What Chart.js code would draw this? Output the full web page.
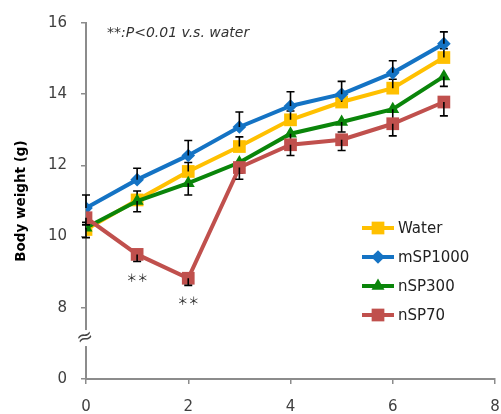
<!DOCTYPE html>
<html>
<head>
<meta charset="utf-8">
<script src="https://cdn.jsdelivr.net/npm/chart.js@4"></script>
<style>
  html, body { margin: 0; padding: 0; background: #fff; }
  #chart { display: block; }
</style>
</head>
<body>
<canvas id="chart" width="501" height="414"></canvas>
<script>
// days after dosing
var days = [0, 1, 2, 3, 4, 5, 6, 7];

// mean body weight (g)
var water   = [10.2, 11.03, 11.83, 12.53, 13.28, 13.78, 14.17, 15.03];
var msp1000 = [10.8, 11.6, 12.28, 13.08, 13.67, 14.0, 14.6, 15.42];
var nsp300  = [10.25, 11.0, 11.5, 12.08, 12.89, 13.22, 13.58, 14.5];
var nsp70   = [10.53, 9.5, 8.83, 11.94, 12.58, 12.72, 13.17, 13.78];

// SD (only one side is drawn, like the original)
var waterErr   = [0.2, 0.25, 0.25, 0.27, 0.25, 0.22, 0.25, 0.25];
var msp1000Err = [0.37, 0.32, 0.42, 0.42, 0.4, 0.36, 0.34, 0.33];
var nsp300Err  = [0.28, 0.3, 0.33, 0.3, 0.28, 0.28, 0.3, 0.28];
var nsp70Err   = [0.2, 0.2, 0.2, 0.33, 0.3, 0.3, 0.34, 0.39];

// days with ** for nSP70
var sigDays = [1, 2];

var yTicks = [6, 8, 10, 12, 14, 16]; // 6 is shown as 0 (broken axis)
var xTicks = [0, 2, 4, 6, 8];

var FONT = '"DejaVu Sans", Verdana, sans-serif';

function pts(arr) {
  return days.map(function(d, i) { return { x: d, y: arr[i] }; });
}

function makeSet(label, arr, err, dir, color, style, radius, order) {
  return {
    label: label,
    data: pts(arr),
    err: err,
    errDir: dir,
    borderColor: color,
    backgroundColor: color,
    borderWidth: 4,
    pointStyle: style,
    pointRadius: radius,
    pointBorderWidth: 0,
    pointBackgroundColor: color,
    tension: 0,
    order: order
  };
}

var datasets = [
  makeSet('Water', water, waterErr, 1, '#FFC000', 'rect', 9, 3),
  makeSet('mSP1000', msp1000, msp1000Err, 1, '#1473C4', 'rectRot', 6.8, 2),
  makeSet('nSP300', nsp300, nsp300Err, -1, '#0A850A', 'triangle', 7.5, 1),
  makeSet('nSP70', nsp70, nsp70Err, -1, '#C0504D', 'rect', 9, 0)
];

// the plot runs almost to the right edge, as in the original
var fixRight = {
  id: 'fixRight',
  afterLayout: function(chart) {
    var xs = chart.scales.x, ca = chart.chartArea;
    var r = chart.width - 6;
    xs.right = r;
    xs.width = r - xs.left;
    ca.right = r;
    ca.width = r - ca.left;
    xs.configure();
  }
};

// error bars after each dataset
var errorBars = {
  id: 'errorBars',
  afterDatasetDraw: function(chart, args) {
    var ds = chart.data.datasets[args.index];
    var xs = chart.scales.x, ys = chart.scales.y;
    var ctx = chart.ctx;
    ctx.save();
    ctx.strokeStyle = '#000';
    ctx.lineWidth = 1.6;
    ds.data.forEach(function(p, i) {
      var px = xs.getPixelForValue(p.x);
      var py = ys.getPixelForValue(p.y);
      var pe = ys.getPixelForValue(p.y + ds.errDir * ds.err[i]);
      ctx.beginPath();
      ctx.moveTo(px, py);
      ctx.lineTo(px, pe);
      ctx.moveTo(px - 4, pe);
      ctx.lineTo(px + 4, pe);
      ctx.stroke();
    });
    ctx.restore();
  }
};

function drawMarker(ctx, style, r, x, y) {
  ctx.beginPath();
  if (style === 'rect') {
    var s = Math.SQRT1_2 * r;
    ctx.rect(x - s, y - s, 2 * s, 2 * s);
  } else if (style === 'rectRot') {
    ctx.moveTo(x, y - r); ctx.lineTo(x + r, y); ctx.lineTo(x, y + r); ctx.lineTo(x - r, y);
    ctx.closePath();
  } else if (style === 'triangle') {
    ctx.moveTo(x, y - r);
    ctx.lineTo(x + r * Math.cos(Math.PI / 6), y + r / 2);
    ctx.lineTo(x - r * Math.cos(Math.PI / 6), y + r / 2);
    ctx.closePath();
  }
  ctx.fill();
}

var extras = {
  id: 'extras',
  afterDraw: function(chart) {
    var ctx = chart.ctx;
    var xs = chart.scales.x, ys = chart.scales.y;
    ctx.save();

    // axis break mark
    var bx = xs.left, by = ys.getPixelForValue(7.15);
    ctx.fillStyle = '#fff';
    ctx.fillRect(bx - 3, by - 8, 6, 16);
    ctx.translate(bx - 1, by);
    ctx.rotate(-0.35);
    ctx.fillStyle = '#444';
    ctx.font = '20px ' + FONT;
    ctx.textAlign = 'center';
    ctx.textBaseline = 'middle';
    ctx.fillText('\u2248', 0, 0);
    ctx.setTransform(1, 0, 0, 1, 0, 0);

    // significance marks
    ctx.fillStyle = '#222';
    ctx.font = '11px "Noto Sans CJK JP", sans-serif';
    ctx.textAlign = 'center';
    ctx.textBaseline = 'middle';
    sigDays.forEach(function(d) {
      var i = days.indexOf(d);
      ctx.fillText('\uFF0A\uFF0A', xs.getPixelForValue(d), ys.getPixelForValue(nsp70[i]) + 23);
    });

    // note
    ctx.textAlign = 'left';
    ctx.fillStyle = '#333';
    ctx.font = 'italic 14px ' + FONT;
    ctx.fillText('**:P<0.01 v.s. water', 107, 33);

    // legend
    var lx = 362, ly = 228;
    chart.data.datasets.forEach(function(ds, k) {
      var y = ly + k * 29;
      ctx.strokeStyle = ds.borderColor;
      ctx.fillStyle = ds.borderColor;
      ctx.lineWidth = 4;
      ctx.beginPath();
      ctx.moveTo(lx, y);
      ctx.lineTo(lx + 32, y);
      ctx.stroke();
      drawMarker(ctx, ds.pointStyle, ds.pointRadius, lx + 16, y);
      ctx.fillStyle = '#222';
      ctx.font = '15px ' + FONT;
      ctx.textAlign = 'left';
      ctx.textBaseline = 'middle';
      ctx.fillText(ds.label, lx + 36, y + 1);
    });
    ctx.restore();
  }
};

var axisColor = '#8c8c8c';

new Chart(document.getElementById('chart').getContext('2d'), {
  type: 'line',
  data: { datasets: datasets },
  plugins: [fixRight, errorBars, extras],
  options: {
    responsive: false,
    animation: false,
    devicePixelRatio: 1,
    layout: { padding: { top: 18, right: 6, left: 0, bottom: 0 } },
    plugins: { legend: { display: false }, tooltip: { enabled: false } },
    scales: {
      x: {
        type: 'linear',
        min: 0,
        max: 8,
        afterBuildTicks: function(s) { s.ticks = xTicks.map(function(v) { return { value: v }; }); },
        afterFit: function(s) { s.height = 35; },
        grid: { drawOnChartArea: false, color: axisColor, lineWidth: 1.5, tickLength: 5 },
        border: { color: axisColor, width: 2 },
        ticks: { color: '#404040', font: { family: FONT, size: 15, lineHeight: 2.3 }, padding: 6, maxRotation: 0 }
      },
      y: {
        type: 'linear',
        min: 6,
        max: 16,
        afterBuildTicks: function(s) { s.ticks = yTicks.map(function(v) { return { value: v }; }); },
        afterFit: function(s) { s.width = 86; },
        grid: { drawOnChartArea: false, color: axisColor, lineWidth: 1.5, tickLength: 5 },
        border: { color: axisColor, width: 2 },
        ticks: {
          color: '#404040',
          font: { family: FONT, size: 15 },
          padding: 14,
          callback: function(v) { return v === 6 ? '0' : v; }
        },
        title: {
          display: true,
          text: 'Body weight (g)',
          color: '#000',
          font: { family: FONT, size: 13.5, weight: 'bold' },
          padding: { top: 13, bottom: 0 }
        }
      }
    }
  }
});
</script>
</body>
</html>
